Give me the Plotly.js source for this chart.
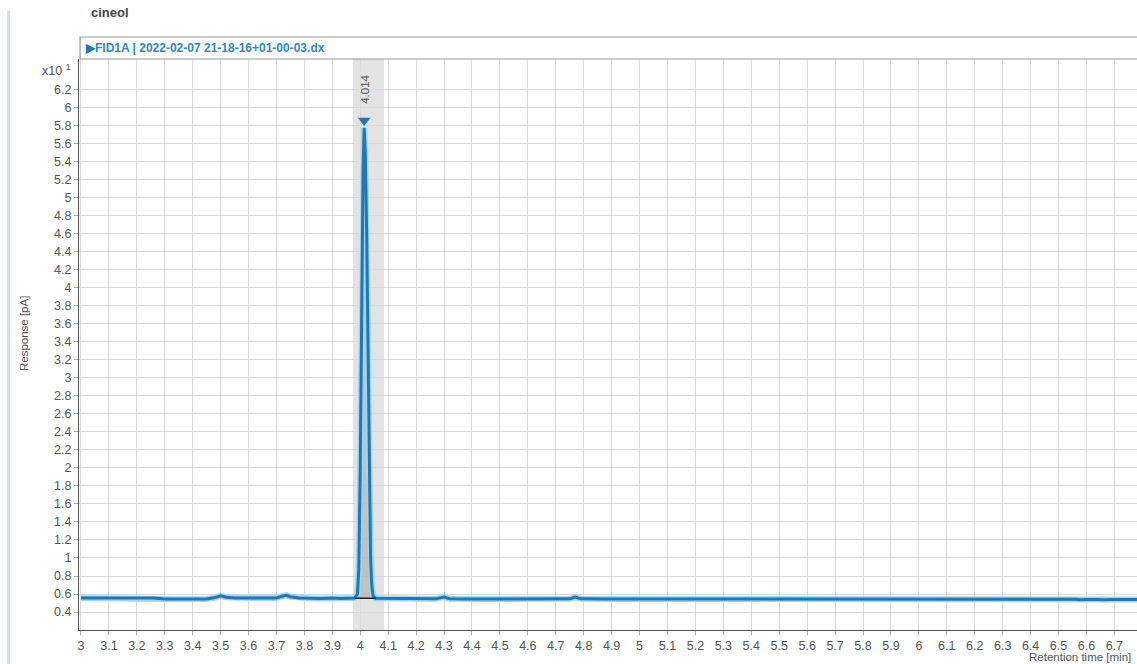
<!DOCTYPE html>
<html>
<head>
<meta charset="utf-8">
<script src="https://cdn.plot.ly/plotly-3.0.1.min.js"></script>
<style>
html,body{margin:0;padding:0;background:#fff;overflow:hidden;}
#chart{width:1137px;height:664px;}
</style>
</head>
<body>
<div id="chart"></div>
<script>
// Retention time [min] and response (x10 pA)
const retentionTime = [3.0, 3.05, 3.1, 3.15, 3.18, 3.22, 3.26, 3.3, 3.35, 3.4, 3.45, 3.48, 3.5, 3.52, 3.55, 3.6, 3.65, 3.7, 3.72, 3.735, 3.75, 3.78, 3.82, 3.86, 3.9, 3.93, 3.96, 3.98, 3.99, 3.995, 4.0, 4.006, 4.01, 4.014, 4.018, 4.023, 4.028, 4.033, 4.037, 4.041, 4.046, 4.055, 4.1, 4.15, 4.2, 4.27, 4.3, 4.32, 4.4, 4.5, 4.6, 4.7, 4.75, 4.77, 4.79, 4.9, 5.0, 5.2, 5.4, 5.6, 5.66, 5.68, 5.7, 5.8, 6.0, 6.2, 6.4, 6.46, 6.48, 6.5, 6.56, 6.58, 6.6, 6.64, 6.66, 6.7, 6.781];
const response = [0.555, 0.555, 0.555, 0.553, 0.56, 0.56, 0.555, 0.545, 0.543, 0.543, 0.545, 0.56, 0.58, 0.565, 0.555, 0.555, 0.555, 0.556, 0.575, 0.585, 0.57, 0.556, 0.553, 0.55, 0.556, 0.55, 0.553, 0.555, 0.6, 0.9, 2.0, 4.0, 5.3, 5.78, 5.5, 4.6, 3.2, 1.8, 1.0, 0.7, 0.58, 0.553, 0.55, 0.548, 0.546, 0.546, 0.565, 0.548, 0.545, 0.545, 0.545, 0.545, 0.546, 0.565, 0.546, 0.545, 0.545, 0.544, 0.544, 0.543, 0.54, 0.545, 0.543, 0.542, 0.542, 0.542, 0.542, 0.538, 0.542, 0.541, 0.541, 0.535, 0.54, 0.54, 0.536, 0.54, 0.54];

// Integrated peak
const peakLabel = "4.014";
const peakTime = [4.014];
const peakApex = [5.86];
const peakStartEnd = [3.98, 4.055];
const peakBaseline = [0.553, 0.553];
const peakWindow = [3.974, 4.085];

const yTicks = [0.4,0.6,0.8,1,1.2,1.4,1.6,1.8,2,2.2,2.4,2.6,2.8,3,3.2,3.4,3.6,3.8,4,4.2,4.4,4.6,4.8,5,5.2,5.4,5.6,5.8,6,6.2];
const xTicks = [3,3.1,3.2,3.3,3.4,3.5,3.6,3.7,3.8,3.9,4,4.1,4.2,4.3,4.4,4.5,4.6,4.7,4.8,4.9,5,5.1,5.2,5.3,5.4,5.5,5.6,5.7,5.8,5.9,6,6.1,6.2,6.3,6.4,6.5,6.6,6.7];

const compound = "cineol";
const signalName = "FID1A | 2022-02-07 21-18-16+01-00-03.dx";

// peak fill polygon from signal points inside the integration window
const fillX = [], fillY = [];
retentionTime.forEach((t, i) => {
  if (t >= peakStartEnd[0] && t <= peakStartEnd[1]) { fillX.push(t); fillY.push(response[i]); }
});

const traces = [
  {x: fillX, y: fillY, type: 'scatter', mode: 'lines', fill: 'toself',
   fillcolor: 'rgba(150,150,150,0.45)', line: {width: 0}, hoverinfo: 'skip'},
  {x: retentionTime, y: response, type: 'scatter', mode: 'lines',
   line: {color: '#9fd6f2', width: 6}, hoverinfo: 'skip'},
  {x: retentionTime, y: response, type: 'scatter', mode: 'lines',
   line: {color: '#1f77b8', width: 3}},
  {x: peakStartEnd, y: peakBaseline, type: 'scatter', mode: 'lines',
   line: {color: '#222', width: 1.5}},
  {x: peakTime, y: peakApex, type: 'scatter', mode: 'markers',
   marker: {symbol: 'triangle-down', size: 11, color: '#1f77b8'}}
];

const axisFont = {family: 'Liberation Sans, Arial, sans-serif', size: 12.5, color: '#555'};

const layout = {
  width: 1137, height: 664,
  margin: {l: 79, r: 0, t: 59, b: 34, pad: 0},
  paper_bgcolor: '#fff', plot_bgcolor: '#fff',
  showlegend: false,
  xaxis: {
    range: [2.993, 6.781], tickvals: xTicks, ticktext: xTicks.map(String),
    showgrid: true, gridcolor: '#dadada', gridwidth: 1, zeroline: false,
    showline: true, linecolor: '#555', linewidth: 1,
    ticks: 'outside', ticklen: 4, tickcolor: '#aaa', tickfont: axisFont
  },
  yaxis: {
    range: [0.2, 6.544], tickvals: yTicks, ticktext: yTicks.map(String),
    showgrid: true, gridcolor: '#dadada', gridwidth: 1, zeroline: false,
    showline: true, linecolor: '#555', linewidth: 1,
    ticks: 'outside', ticklen: 4, tickcolor: '#aaa', tickfont: axisFont
  },
  shapes: [
    {type: 'rect', layer: 'between', xref: 'x', yref: 'paper',
     x0: peakWindow[0], x1: peakWindow[1], y0: 0, y1: 1,
     fillcolor: '#e3e3e3', line: {width: 0}},
    {type: 'rect', xref: 'paper', yref: 'paper', x0: 0.001, x1: 1.01, y0: 1.0, y1: 1.0385,
     fillcolor: 'rgba(0,0,0,0)', line: {color: '#9a9a9a', width: 1.2}},
    {type: 'line', xref: 'paper', yref: 'paper', x0: -0.0665, x1: -0.0665, y0: -0.07, y1: 1.085,
     line: {color: '#cfe0ef', width: 3}}
  ],
  annotations: [
    {xref: 'paper', yref: 'paper', x: 0.0095, y: 1.082, xanchor: 'left', yanchor: 'middle',
     text: '<b>' + compound + '</b>', showarrow: false,
     font: {family: 'Liberation Sans, Arial, sans-serif', size: 13, color: '#444'}},
    {xref: 'paper', yref: 'paper', x: 0.004, y: 1.0193, xanchor: 'left', yanchor: 'middle',
     text: '<b><span style="color:#1f77b8">▶</span>' + signalName + '</b>', showarrow: false,
     font: {family: 'Liberation Sans, Arial, sans-serif', size: 12, color: '#2b8bbd'}},
    {xref: 'paper', yref: 'y', x: -0.006, y: 6.42, xanchor: 'right', yanchor: 'middle',
     text: 'x10 <sup>1</sup>', showarrow: false, font: axisFont},
    {xref: 'x', yref: 'y', x: peakTime[0], y: 6.02, xanchor: 'center', yanchor: 'bottom',
     text: peakLabel, textangle: -90, showarrow: false,
     font: {family: 'Liberation Sans, Arial, sans-serif', size: 11.5, color: '#555'}},
    {xref: 'paper', yref: 'paper', x: -0.052, y: 0.52, xanchor: 'center', yanchor: 'middle',
     text: 'Response [pA]', textangle: -90, showarrow: false,
     font: {family: 'Liberation Sans, Arial, sans-serif', size: 11.5, color: '#555'}},
    {xref: 'paper', yref: 'paper', x: 0.9965, y: -0.047, xanchor: 'right', yanchor: 'middle',
     text: 'Retention time [min]', showarrow: false,
     font: {family: 'Liberation Sans, Arial, sans-serif', size: 11.5, color: '#555'}}
  ]
};

Plotly.newPlot('chart', traces, layout, {displayModeBar: false, staticPlot: true});
</script>
</body>
</html>
